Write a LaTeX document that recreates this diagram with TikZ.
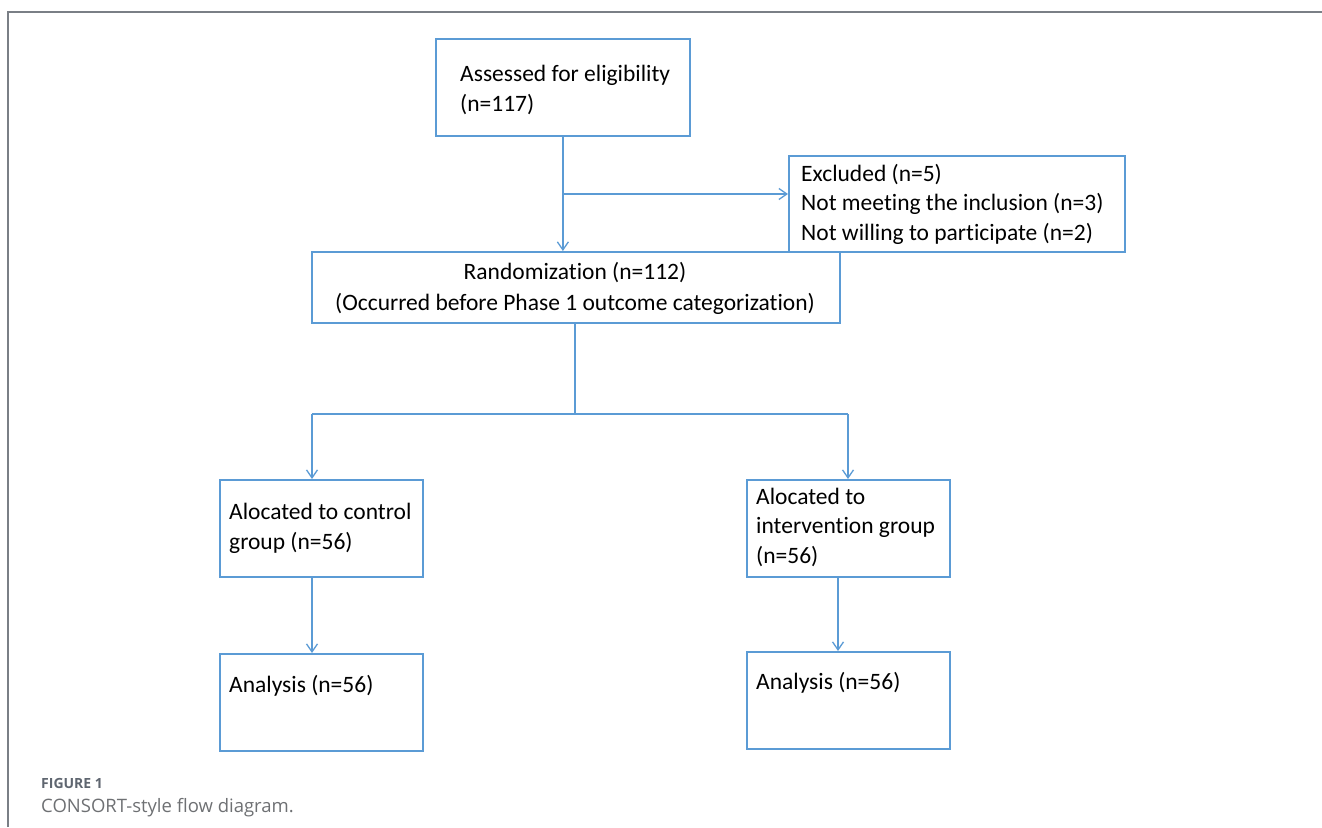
\documentclass[tikz,border=0pt]{standalone}
\usepackage{fontspec}
\setmainfont{Carlito}[Ligatures=NoCommon]
\newfontfamily\capfont{Open Sans}
\usetikzlibrary{arrows.meta}
\definecolor{lineblue}{HTML}{5B9BD5}
\definecolor{framegray}{HTML}{7A7F86}
\definecolor{capdark}{HTML}{5F6670}
\definecolor{caplight}{HTML}{6E7073}
\tikzset{
  boxnode/.style={draw=lineblue, line width=1.8pt, rectangle, inner sep=0pt, anchor=north west},
  conn/.style={draw=lineblue, line width=1.6pt},
  arr/.style={conn, -{Straight Barb[length=8pt,width=11pt,line width=1.3pt]}},
  txt/.style={font=\fontsize{23.5}{29.5}\selectfont, align=left, anchor=base west, inner sep=0pt, text=black},
  ctxt/.style={font=\fontsize{23.5}{30.5}\selectfont, align=center, anchor=base, inner sep=0pt, text=black},
}
\begin{document}
\begin{tikzpicture}[x=1pt,y=-1pt]
\useasboundingbox (0,0) rectangle (1322,827);
% frame
\draw[framegray, line width=1.5pt] (8,827) -- (8,12) -- (1322,12);
% boxes
\node[boxnode, minimum width=254, minimum height=97] (A) at (435,38) {};
\node[boxnode, minimum width=336, minimum height=96] (E) at (788,155) {};
\node[boxnode, minimum width=528, minimum height=71] (R) at (311,251) {};
\node[boxnode, minimum width=203, minimum height=97] (C) at (219,479) {};
\node[boxnode, minimum width=203, minimum height=97] (I) at (746,479) {};
\node[boxnode, minimum width=203, minimum height=97] (AL) at (219,653) {};
\node[boxnode, minimum width=203, minimum height=97] (AR) at (746,651) {};
% texts (anchored at the baseline of their last line)
\node[txt] (tA) at (460,111) {Assessed for eligibility\\(n=117)};
\node[txt] (tE) at (801,240) {Excluded (n=5)\\Not meeting the inclusion (n=3)\\Not willing to participate (n=2)};
\node[ctxt] (tR) at (575,310) {Randomization (n=112)\\(Occurred before Phase 1 outcome categorization)};
\node[txt] (tC) at (229,549) {Alocated to control\\group (n=56)};
\node[txt] (tI) at (756,563) {Alocated to\\intervention group\\(n=56)};
\node[txt] (tAL) at (229,692) {Analysis (n=56)};
\node[txt] (tAR) at (756,689) {Analysis (n=56)};
% connectors
\coordinate (j1) at (562,194);
\draw[arr] (A.south) -- (A.south |- R.north);
\draw[arr] (j1) -- (E.west |- j1);
\coordinate (j2) at (575,414);
\coordinate (cl) at (312,414);
\coordinate (cr) at (848,414);
\draw[conn] (R.south -| j2) -- (j2);
\draw[conn] (cl) -- (cr);
\draw[arr] (cl) -- (cl |- C.north);
\draw[arr] (cr) -- (cr |- I.north);
\coordinate (lb) at (312,576);
\coordinate (rb) at (838,576);
\draw[arr] (lb) -- (lb |- AL.north);
\draw[arr] (rb) -- (rb |- AR.north);
% caption
\node[font=\capfont\bfseries\fontsize{14}{16}\selectfont, text=capdark, anchor=base west, inner sep=0pt] (fig) at (41,788) {FIGURE 1};
\node[font=\capfont\fontsize{18.5}{21}\selectfont, text=caplight, anchor=base west, inner sep=0pt] (cap) at (41,812) {CONSORT-style flow diagram.};
\end{tikzpicture}
\end{document}
